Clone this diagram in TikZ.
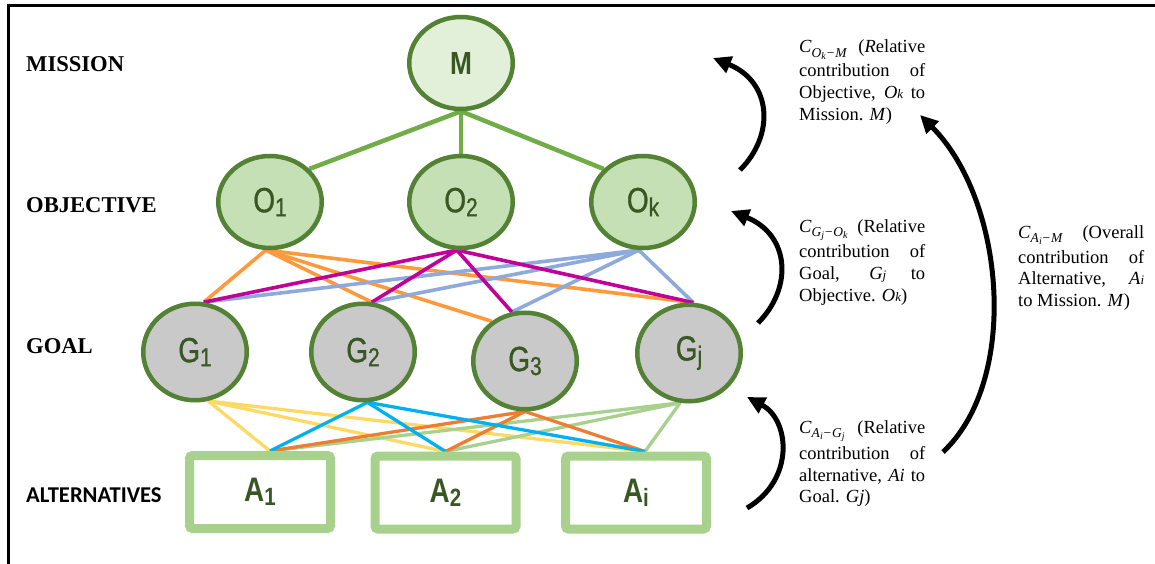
\documentclass[tikz,border=0pt]{standalone}
\usepackage{fontspec}
\setmainfont{Liberation Serif}
\newfontfamily\lblfont[FakeStretch=0.82]{Liberation Sans}
\newfontfamily\circfont[FakeStretch=0.8,FakeBold=0.9]{Liberation Sans}
\newfontfamily\altfont{Carlito}
\usetikzlibrary{shapes.geometric,arrows.meta,backgrounds,calc}
\definecolor{nodeborder}{HTML}{548235}
\definecolor{lblgreen}{HTML}{385723}
\definecolor{mfill}{HTML}{E2F0D9}
\definecolor{ofill}{HTML}{C5E0B4}
\definecolor{gfill}{HTML}{C9C9C9}
\definecolor{mline}{HTML}{70AD47}
\definecolor{eorange}{HTML}{FF9A3C}
\definecolor{emagenta}{HTML}{C00099}
\definecolor{eblue}{HTML}{8EA9DB}
\definecolor{eyellow}{HTML}{FFD966}
\definecolor{ecyan}{HTML}{00B0F0}
\definecolor{edorange}{HTML}{ED7D31}
\definecolor{egreen}{HTML}{A9D18E}
\newcommand{\circlbl}[2]{{\circfont\fontsize{35}{35}\selectfont #1\raisebox{-4pt}{\fontsize{26}{26}\selectfont #2}}}
\newcommand{\boxlbl}[2]{{\lblfont\bfseries\fontsize{34}{34}\selectfont #1\raisebox{-4pt}{\fontsize{25}{25}\selectfont #2}}}
\newcommand{\smit}[1]{{\fontsize{13}{13}\selectfont\itshape #1}}
\newcommand{\csub}[1]{\textit{C}\raisebox{-4.5pt}{\fontsize{13.5}{13.5}\selectfont #1}}
\newcommand{\ssub}[2]{\textit{#1}\raisebox{-2pt}{\fontsize{10}{10}\selectfont\textit{#2}}}
\newcommand{\minus}{\kern0.8pt−\kern0.8pt}
\tikzset{
  mnode/.style={ellipse, draw=nodeborder, line width=4.5pt, fill=mfill, minimum width=103.5pt, minimum height=92pt, inner sep=0pt, text=lblgreen},
  onode/.style={mnode, fill=ofill},
  gnode/.style={mnode, fill=gfill, minimum height=96.5pt},
  abox/.style={rectangle, rounded corners=3pt, draw=egreen, line width=9pt, fill=white, minimum width=141pt, minimum height=73pt, inner sep=0pt, text=lblgreen},
  levellbl/.style={anchor=base west, inner sep=0pt, font=\bfseries\fontsize{22.6}{24}\selectfont},
  mlink/.style={draw=mline, line width=4.5pt},
  uplink/.style={line width=3.6pt},
  lowlink/.style={line width=3.3pt},
  txtline/.style={anchor=base west, inner sep=0pt, font=\fontsize{18.5}{22}\selectfont},
  bigarrow/.style={line width=5pt, -{Triangle[length=18pt,width=17pt]}}
}
\begin{document}
\begin{tikzpicture}[x=1pt,y=-1pt]
\useasboundingbox (0,0) rectangle (1155,564);
% frame
\coordinate (fbl) at (8.7,564);
\coordinate (ftl) at (8.7,5.3);
\coordinate (ftr) at (1155,5.3);
\draw[line width=2.8pt] (fbl) -- (ftl) -- (ftr);
% level labels
\node[levellbl] (lmission) at (26,72) {MISSION};
\node[levellbl] (lobjective) at (26,212) {OBJECTIVE};
\node[levellbl] (lgoal) at (26,353) {GOAL};
\node[anchor=base west, inner sep=0pt, font=\altfont\bfseries\fontsize{22.6}{24}\selectfont] (lalt) at (26,502) {ALTERNATIVES};
% nodes
\node[mnode] (M) at (461,63) {{\lblfont\bfseries\fontsize{32}{32}\selectfont M}};
\node[onode] (O1) at (270,202) {\circlbl{O}{1}};
\node[onode] (O2) at (461,202) {\circlbl{O}{2}};
\node[onode] (Ok) at (643,202) {\circlbl{O}{k}};
\node[gnode] (G1) at (195,352) {\circlbl{G}{1}};
\node[gnode] (G2) at (363,352) {\circlbl{G}{2}};
\node[gnode] (G3) at (525,361) {\circlbl{G}{3}};
\node[gnode] (Gj) at (689,353) {\circlbl{G}{j}};
\node[abox] (A1) at (260,492) {\boxlbl{A}{1}};
\node[abox] (A2) at (445.5,492.5) {\boxlbl{A}{2}};
\node[abox] (Ai) at (636,492.5) {\boxlbl{A}{i}};
\coordinate (A1t) at ($(A1.north)+(10,0)$);
\coordinate (A2t) at (A2.north);
\coordinate (Ait) at ($(Ai.north)+(9,0)$);
% connectors
\begin{pgfonlayer}{background}
\fill[white] (0,0) rectangle (1155,564);
\draw[mlink] (M.south) -- (O1.40);
\draw[mlink] (M.south) -- (O2.north);
\draw[mlink] (M.south) -- (Ok.140);
\foreach \g/\a in {G1/80,G2/80,G3/130,Gj/85} \draw[uplink, draw=eorange] (O1.265) -- (\g.\a);
\foreach \g/\a in {G1/80,G2/80,G3/105,Gj/85} \draw[uplink, draw=eblue] (Ok.265) -- (\g.\a);
\foreach \g/\a in {G1/80,G2/80,G3/105,Gj/85} \draw[uplink, draw=emagenta] (O2.265) -- (\g.\a);
\foreach \t in {A1t,A2t,Ait} \draw[lowlink, draw=eyellow] (G1.285) -- (\t);
\foreach \t in {A1t,A2t,Ait} \draw[lowlink, draw=egreen] (Gj.260) -- (\t);
\foreach \t in {A1t,A2t,Ait} \draw[lowlink, draw=edorange] (G3.south) -- (\t);
\foreach \t in {A1t,A2t,Ait} \draw[lowlink, draw=ecyan] (G2.275) -- (\t);
\end{pgfonlayer}
% curved arrows
\coordinate (r1s) at (740,170); \coordinate (r1e) at (713,58);
\coordinate (r2s) at (758,323); \coordinate (r2e) at (731,211);
\coordinate (r3s) at (747,508); \coordinate (r3e) at (747,397);
\coordinate (r4s) at (943,452); \coordinate (r4e) at (920,115);
\draw[bigarrow] (r1s) .. controls (775,135) and (772,82) .. (r1e);
\draw[bigarrow] (r2s) .. controls (793,288) and (790,235) .. (r2e);
\draw[bigarrow] (r3s) .. controls (795,480) and (790,420) .. (r3e);
\draw[bigarrow] (r4s) .. controls (1020,380) and (1005,200) .. (r4e);
% text block 1
\node[txtline] (t1a) at (799,53) {\makebox[126pt][s]{\csub{\ssub{O}{k}\minus\textit{M}} (\textit{R}elative}};
\node[txtline] (t1b) at (799,77) {\makebox[126pt][s]{contribution of}};
\node[txtline] (t1c) at (799,99) {\makebox[126pt][s]{Objective, \textit{O}\smit{k} to}};
\node[txtline] (t1d) at (799,121) {Mission. \textit{M})};
% text block 2
\node[txtline] (t2a) at (799,232) {\makebox[126pt][s]{\csub{\ssub{G}{j}\minus\ssub{O}{k}} (Relative}};
\node[txtline] (t2b) at (799,257) {\makebox[126pt][s]{contribution of}};
\node[txtline] (t2c) at (799,279) {\makebox[126pt][s]{Goal, \textit{G}\smit{j} to}};
\node[txtline] (t2d) at (799,301) {Objective. \textit{O}\smit{k})};
% text block 3
\node[txtline] (t3a) at (1018,238) {\makebox[126pt][s]{\csub{\ssub{A}{i}\minus\textit{M}} (Overall}};
\node[txtline] (t3b) at (1018,263) {\makebox[126pt][s]{contribution of}};
\node[txtline] (t3c) at (1018,284) {\makebox[126pt][s]{Alternative, \textit{A}\smit{i}}};
\node[txtline] (t3d) at (1018,306) {to Mission. \textit{M})};
% text block 4
\node[txtline] (t4a) at (799,433) {\makebox[126pt][s]{\csub{\ssub{A}{i}\minus\ssub{G}{j}} (Relative}};
\node[txtline] (t4b) at (799,459) {\makebox[126pt][s]{contribution of}};
\node[txtline] (t4c) at (799,481) {\makebox[126pt][s]{alternative, \textit{Ai} to}};
\node[txtline] (t4d) at (799,502) {Goal. \textit{Gj})};
\end{tikzpicture}
\end{document}
